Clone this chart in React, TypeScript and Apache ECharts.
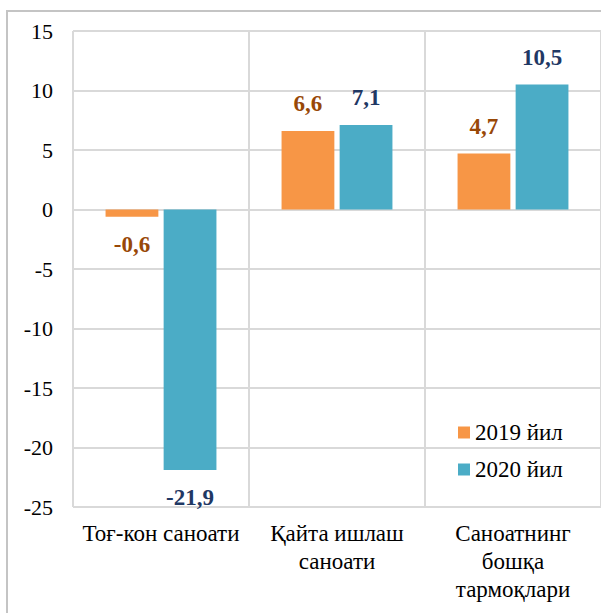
import React, { useEffect, useRef } from "react";
import * as echarts from "echarts";

const categories = ["Тоғ-кон саноати", "Қайта ишлаш\nсаноати", "Саноатнинг\nбошқа\nтармоқлари"];
const series2019 = [-0.6, 6.6, 4.7];
const series2020 = [-21.9, 7.1, 10.5];
const seriesNames = ["2019 йил", "2020 йил"];
const yTicks = { min: -25, max: 15, interval: 5 };

const FONT = "Liberation Serif";

function fmt(v: number) {
  return String(v).replace(".", ",");
}

function makeData(values: number[]) {
  return values.map((v) => ({
    value: v,
    label: { position: v < 0 ? "bottom" : "top" },
  }));
}

export default function App() {
  const ref = useRef<HTMLDivElement>(null);
  useEffect(() => {
    if (!ref.current) return;
    const chart = echarts.init(ref.current, null, { renderer: "svg" });
    chart.setOption({
      animation: false,
      backgroundColor: "#ffffff",
      textStyle: { fontFamily: FONT },
      graphic: [
        {
          type: "rect",
          shape: { x: 7, y: 11, width: 620, height: 640 },
          style: { fill: "none", stroke: "#c4c4c4", lineWidth: 2 },
          z: 100,
        },
      ],
      grid: { left: 73, right: -3, top: 31, bottom: 106 },
      legend: {
        orient: "vertical",
        left: 453,
        top: 416,
        itemWidth: 12,
        itemHeight: 12,
        itemGap: 14,
        icon: "rect",
        textStyle: { fontFamily: FONT, fontSize: 23, color: "#000" },
        data: seriesNames,
      },
      xAxis: {
        type: "category",
        data: categories,
        position: "bottom",
        axisLine: { show: false },
        axisTick: { show: false },
        splitLine: { show: true, interval: 0, lineStyle: { color: "#d9d9d9", width: 2 } },
        axisLabel: {
          interval: 0,
          margin: 12,
          fontFamily: FONT,
          fontSize: 23,
          color: "#000",
          lineHeight: 28,
        },
      },
      yAxis: {
        type: "value",
        min: yTicks.min,
        max: yTicks.max,
        interval: yTicks.interval,
        axisLine: { show: false },
        axisTick: { show: false },
        splitLine: { show: true, lineStyle: { color: "#d9d9d9", width: 2 } },
        axisLabel: { fontFamily: FONT, fontSize: 22, color: "#000", margin: 20 },
      },
      series: [
        {
          name: seriesNames[0],
          type: "bar",
          data: makeData(series2019),
          itemStyle: { color: "#F79646" },
          barGap: "10%",
          barCategoryGap: "37%",
          label: {
            show: true,
            distance: 16,
            fontFamily: FONT,
            fontSize: 23,
            fontWeight: "bold",
            color: "#984807",
            formatter: (p: any) => fmt(p.value),
          },
        },
        {
          name: seriesNames[1],
          type: "bar",
          data: makeData(series2020),
          itemStyle: { color: "#4BACC6" },
          barGap: "10%",
          barCategoryGap: "37%",
          label: {
            show: true,
            distance: 16,
            fontFamily: FONT,
            fontSize: 23,
            fontWeight: "bold",
            color: "#1F3864",
            formatter: (p: any) => fmt(p.value),
          },
        },
      ],
    });
    return () => chart.dispose();
  }, []);
  return (
    <div style={{ position: "fixed", left: 0, top: 0, width: 601, height: 613, overflow: "hidden" }}>
      <div ref={ref} style={{ width: 601, height: 613 }} />
    </div>
  );
}
